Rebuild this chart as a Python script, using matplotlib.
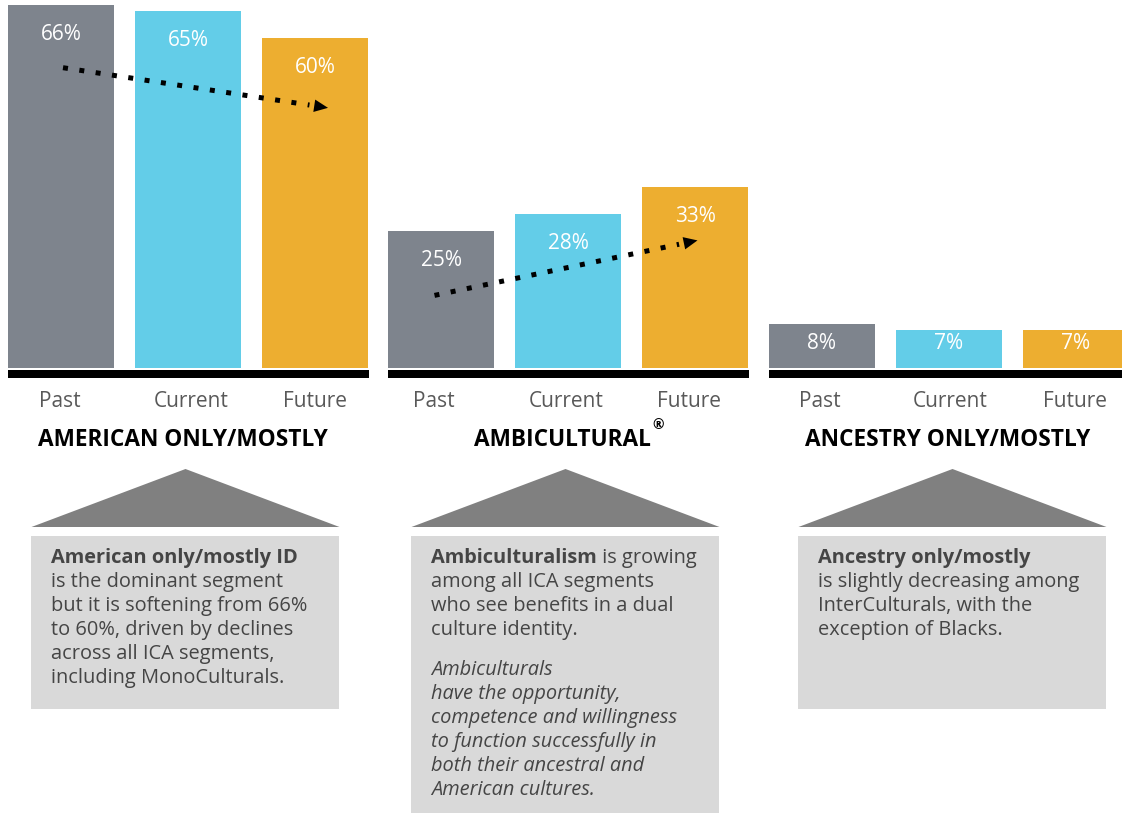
import matplotlib
matplotlib.use('Agg')
import matplotlib.pyplot as plt
from matplotlib.patches import Polygon, Rectangle

plt.rcParams['font.family'] = ['Open Sans', 'DejaVu Sans']

# data
periods = ['Past', 'Current', 'Future']
groups = ['AMERICAN ONLY/MOSTLY', 'AMBICULTURAL', 'ANCESTRY ONLY/MOSTLY']
values = [[66, 65, 60],
          [25, 28, 33],
          [8, 7, 7]]
bar_colors = ['#7e848d', '#63cde8', '#edae30']

box_texts = [
    [('American only/mostly ID', 'bold', 'normal'),
     ('is the dominant segment', 'normal', 'normal'),
     ('but it is softening from 66%', 'normal', 'normal'),
     ('to 60%, driven by declines', 'normal', 'normal'),
     ('across all ICA segments,', 'normal', 'normal'),
     ('including MonoCulturals.', 'normal', 'normal')],
    [(None, None, None),
     ('among all ICA segments', 'normal', 'normal'),
     ('who see benefits in a dual', 'normal', 'normal'),
     ('culture identity.', 'normal', 'normal'),
     ('', 'normal', 'normal'),
     ('Ambiculturals', 'normal', 'italic'),
     ('have the opportunity,', 'normal', 'italic'),
     ('competence and willingness', 'normal', 'italic'),
     ('to function successfully in', 'normal', 'italic'),
     ('both their ancestral and', 'normal', 'italic'),
     ('American cultures.', 'normal', 'italic')],
    [('Ancestry only/mostly', 'bold', 'normal'),
     ('is slightly decreasing among', 'normal', 'normal'),
     ('InterCulturals, with the', 'normal', 'normal'),
     ('exception of Blacks.', 'normal', 'normal')],
]

W, H = 1122, 815
fig = plt.figure(figsize=(W / 100, H / 100), dpi=100)

# layout in pixels
group_x0 = [8, 388.5, 769]
bar_step = 127
bar_w = 106
base_px = 368
px_per_pct = 5.5

# bar axes (y in percent)
ax = fig.add_axes([0, 1 - base_px / H, 1, base_px / H])
ax.set_xlim(0, W)
ax.set_ylim(0, base_px / px_per_pct)
ax.axis('off')

for g, vals in enumerate(values):
    for i, v in enumerate(vals):
        cx = group_x0[g] + i * bar_step + bar_w / 2
        ax.bar(cx, v, width=bar_w, color=bar_colors[i], clip_on=True)
        ly = v - 5.4 if v > 15 else 4.4
        ax.text(cx, ly, f'{v}%', color='white', fontsize=15,
                ha='center', va='center')

# trend arrows for first two groups
arrow_dx = [(2, 13), (-7, 2)]
arrow_dy = [(-11.4, -12.7), (-11.8, -9.8)]
for g in [0, 1]:
    vals = values[g]
    x1 = group_x0[g] + bar_w / 2 + arrow_dx[g][0]
    x2 = group_x0[g] + 2 * bar_step + bar_w / 2 + arrow_dx[g][1]
    y1 = vals[0] + arrow_dy[g][0]
    y2 = vals[2] + arrow_dy[g][1]
    t = 0.93
    xm = x1 + (x2 - x1) * t
    ym = y1 + (y2 - y1) * t
    ax.plot([x1, xm], [y1, ym], color='black', lw=3.6,
            linestyle=(0, (1, 2.3)), dash_capstyle='butt')
    ax.annotate('', xy=(x2, y2), xytext=(xm, ym),
                arrowprops=dict(arrowstyle='-|>,head_length=1.0,head_width=0.45',
                                color='black', lw=0, shrinkA=0, shrinkB=0))

# decoration axes in pixel coordinates
ov = fig.add_axes([0, 0, 1, 1])
ov.set_xlim(0, W)
ov.set_ylim(H, 0)
ov.axis('off')

group_lines = [(8, 369), (388, 749), (769, 1122)]
title_x = [183, 562, 948]
tick_x = [[60, 191, 315], [434, 566, 689], [820, 950, 1075]]
centers = [185.5, 565.5, 952.5]
box_bottoms = [709, 813, 709]
text_col = '#454545'
fs = 14.4

for g in range(3):
    xa, xb = group_lines[g]
    ov.add_patch(Rectangle((xa, 370), xb - xa, 8, color='black', lw=0))
    for i, p in enumerate(periods):
        ov.text(tick_x[g][i], 401.5, p, ha='center', va='center', fontsize=15,
                color='#595959')
    ov.text(title_x[g], 440.5, groups[g], ha='center', va='center',
            fontsize=16.3, fontweight='bold', color='black')
    c = centers[g]
    ov.add_patch(Polygon([(c - 154, 527), (c, 469), (c + 154, 527)],
                         closed=True, color='#808080', lw=0))
    ov.add_patch(Rectangle((c - 154, 536), 308, box_bottoms[g] - 536,
                           color='#d9d9d9', lw=0))
    tx = c - 134
    for k, (line, wt, st) in enumerate(box_texts[g]):
        y = 558 + k * 24 - (8 if k > 4 and g == 1 else 0)
        if line is None:
            t = ov.text(tx, y, 'Ambiculturalism', fontsize=fs, fontweight='bold',
                        color=text_col, va='center')
            ov.annotate(' is growing', xycoords=t, xy=(1, 0.5), va='center',
                        fontsize=fs, color=text_col)
            continue
        ov.text(tx, y, line, fontsize=fs, fontweight=wt, style=st,
                color=text_col, va='center')

ov.text(652, 425, '®', fontsize=10, fontweight='bold', color='black',
        ha='left', va='center')

fig.savefig('out.png', dpi=100)
